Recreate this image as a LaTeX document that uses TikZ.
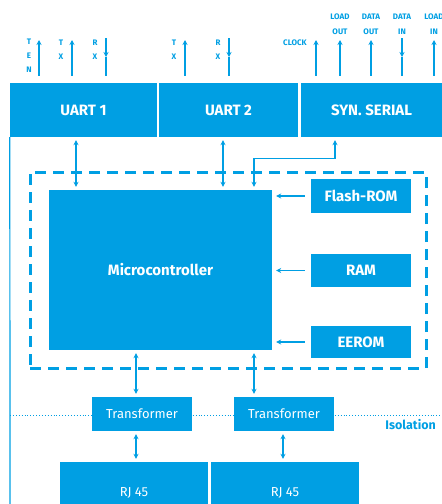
\documentclass[tikz,border=0pt]{standalone}
\usepackage{fontspec}
\setmainfont{Fira Sans}
\usetikzlibrary{arrows.meta}
\definecolor{blu}{RGB}{0,159,227}

\begin{document}
\begin{tikzpicture}[x=1pt,y=-1pt,
    box/.style={fill=blu,text=white,inner sep=0pt,font=\bfseries\fontsize{15}{17}\selectfont},
    thin box/.style={box,font=\fontsize{13}{15}\selectfont},
    sig/.style={blu,line width=1.6pt,-{Stealth[length=5pt,width=5pt]}},
    lnk/.style={blu,line width=1.3pt,{Stealth[length=5pt,width=5pt]}-{Stealth[length=5pt,width=5pt]},shorten <=3pt,shorten >=3pt},
    tag/.style={blu,inner sep=0pt,align=center,font=\bfseries\fontsize{8}{14}\selectfont}]
    \useasboundingbox (0,0) rectangle (442,504);
    \clip (0,0) rectangle (442,504);
    \node [box,minimum width=147,minimum height=54] (uartA) at (83.5,110) {UART 1};
    \node [box,minimum width=139,minimum height=54] (uartB) at (228.5,110) {UART 2};
    \node [box,minimum width=141,minimum height=54] (syn) at (371.5,110) {SYN. SERIAL};
    \coordinate (frameB) at (10,504);
    \draw [blu,line width=1.2pt] (uartA.south west) -- (frameB);
    \foreach \x/\n in {39/ten,72/txa,185/txb,316/clk,340/lout,371/dout,434/lin} {
        \coordinate (\n) at (\x,40);
        \draw [sig,shorten <=7pt] (\n |- uartA.north) -- (\n);
    }
    \foreach \x/\n in {106/rxa,229/rxb,402/din} {
        \coordinate (\n) at (\x,38);
        \coordinate (\n m) at (\x,57);
        \draw [sig] (\n) -- (\n m);
        \draw [blu,line width=1.6pt,shorten <=7pt] (\n |- uartA.north) -- (\n m);
    }
    \node [tag] (tenL) at (29,56) {T\\E\\N};
    \node [tag] (txaL) at (61,49.5) {T\\X};
    \node [tag] (rxaL) at (95,49.5) {R\\X};
    \node [tag] (txbL) at (174,49.5) {T\\X};
    \node [tag] (rxbL) at (218,49.5) {R\\X};
    \node [tag,anchor=east] (clkL) at (307,43) {CLOCK};
    \node [tag,font=\bfseries\fontsize{8}{15}\selectfont] (loutL) at (340,24.5) {LOAD\\OUT};
    \node [tag,font=\bfseries\fontsize{8}{15}\selectfont] (doutL) at (371,24.5) {DATA\\OUT};
    \node [tag,font=\bfseries\fontsize{8}{15}\selectfont] (dinL) at (402,24.5) {DATA\\IN};
    \node [tag,font=\bfseries\fontsize{8}{15}\selectfont] (linL) at (434,24.5) {LOAD\\IN};
    \node [draw=blu,line width=3pt,dash pattern=on 11pt off 7pt,minimum width=396,minimum height=196] (mcu) at (228,270) {};
    \node [box,minimum width=223,minimum height=160] (micro) at (160.5,270) {Microcontroller};
    \node [box,minimum width=100,minimum height=34] (flash) at (361,196) {Flash-ROM};
    \node [box,minimum width=100,minimum height=33] (ram) at (361,270.5) {RAM};
    \node [box,minimum width=100,minimum height=32] (eerom) at (361,342) {EEROM};
    \draw [sig,shorten <=6pt,shorten >=4pt] (flash.west) -- (flash.west -| micro.east);
    \draw [sig,shorten <=6pt,shorten >=4pt] (ram.west) -- (ram.west -| micro.east);
    \draw [sig,shorten <=6pt,shorten >=4pt] (eerom.west) -- (eerom.west -| micro.east);
    \coordinate (isoL) at (10,415);
    \coordinate (isoR) at (442,415);
    \draw [blu,line width=0.9pt,dotted] (isoL) -- (isoR);
    \node [blu,inner sep=0pt,anchor=east,font=\bfseries\fontsize{12.5}{14}\selectfont] (iso) at (436,425) {Isolation};
    \node [thin box,minimum width=100,minimum height=34] (trA) at (142,414) {Transformer};
    \node [thin box,minimum width=100,minimum height=34] (trB) at (284,414) {Transformer};
    \node [thin box,minimum width=148,minimum height=62] (rjA) at (134,493) {RJ 45};
    \node [thin box,minimum width=148,minimum height=62] (rjB) at (285,493) {RJ 45};
    \coordinate (c1) at (76,0);
    \coordinate (c2) at (223,0);
    \coordinate (c3) at (254,0);
    \coordinate (c4) at (335,0);
    \coordinate (c5) at (136,0);
    \coordinate (c6) at (283,0);
    \draw [lnk] (c1 |- uartA.south) -- (c1 |- micro.north);
    \draw [lnk] (c2 |- uartB.south) -- (c2 |- micro.north);
    \draw [lnk] (c4 |- syn.south) -- ++(0,21) -| (c3 |- micro.north);
    \draw [lnk] (c5 |- micro.south) -- (c5 |- trA.north);
    \draw [lnk] (c3 |- micro.south) -- (c3 |- trB.north);
    \draw [lnk] (c5 |- trA.south) -- (c5 |- rjA.north);
    \draw [lnk] (c6 |- trB.south) -- (c6 |- rjB.north);
\end{tikzpicture}
\end{document}
